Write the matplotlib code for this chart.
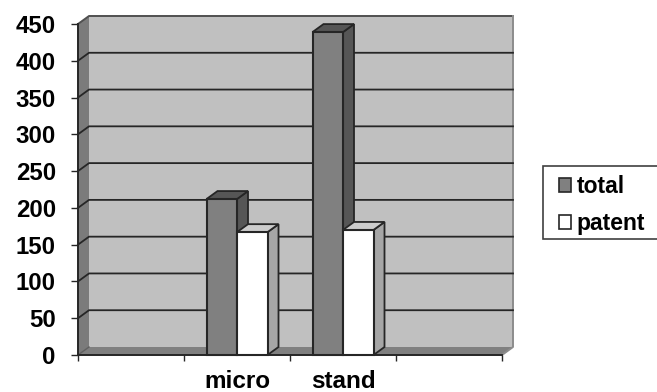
import matplotlib
matplotlib.use("Agg")
import matplotlib.pyplot as plt
from matplotlib.patches import Polygon, Rectangle, Patch

plt.rcParams['font.family'] = ['Liberation Sans', 'DejaVu Sans']

categories = ['micro', 'stand']
total = [212, 439]
patent = [167, 170]
y_ticks = [0, 50, 100, 150, 200, 250, 300, 350, 400, 450]

W, H = 657, 392
L, R, T, B = 78, 502, 24, 355
fig = plt.figure(figsize=(W / 100, H / 100), dpi=100)
ax = fig.add_axes([L / W, (H - B) / H, (R - L) / W, (B - T) / H])
ax.set_xlim(0, 4)
ax.set_ylim(0, 450)

ux = (R - L) / 4          # pixels per category
uy = (B - T) / 450        # pixels per value
dx = 11 / ux              # depth in data units
dy = 8 / uy
bw = 30.5 / ux

DARK = '#262626'


def poly(pts, fc, ec='none', lw=0, z=1):
    ax.add_patch(Polygon(pts, closed=True, facecolor=fc, edgecolor=ec, linewidth=lw,
                         zorder=z, clip_on=False, joinstyle='miter'))


# back wall, side wall, floor
poly([(dx, dy), (4 + dx, dy), (4 + dx, 450 + dy), (dx, 450 + dy)], '#c0c0c0', z=1)
poly([(0, 0), (dx, dy), (dx, 450 + dy), (0, 450)], '#7b7b7b', z=1)
poly([(0, 0), (4, 0), (4 + dx, dy), (dx, dy)], '#808080', z=1)

# wall outlines
ax.plot([0, dx, 4 + dx], [450, 450 + dy, 450 + dy], color='#505050', lw=1.4, zorder=2, clip_on=False)
ax.plot([4 + dx, 4 + dx, 4], [450 + dy, dy, 0], color='#8c8c8c', lw=1.4, zorder=2, clip_on=False)

# gridlines
for v in y_ticks[1:-1]:
    ax.plot([0, dx, 4 + dx], [v, v + dy, v + dy], color=DARK, lw=1.3, zorder=2, clip_on=False)
ax.plot([0, dx], [0, dy], color='#606060', lw=1.0, zorder=2)


def bar3d(x0, h, front, top, side):
    x1 = x0 + bw
    poly([(x1, 0), (x1 + dx, dy), (x1 + dx, h + dy), (x1, h)], side, DARK, 1.3, 3)
    poly([(x0, h), (x1, h), (x1 + dx, h + dy), (x0 + dx, h + dy)], top, DARK, 1.3, 3)
    poly([(x0, 0), (x1, 0), (x1, h), (x0, h)], front, DARK, 1.5, 3)


for i, cat in enumerate(categories):
    centre = i + 1.5
    bar3d(centre - bw, total[i], '#808080', '#565656', '#565656')
    bar3d(centre, patent[i], '#ffffff', '#cccccc', '#a6a6a6')

for s in ('top', 'right'):
    ax.spines[s].set_visible(False)
for s in ('left', 'bottom'):
    ax.spines[s].set_color(DARK)
    ax.spines[s].set_linewidth(1.4)
    ax.spines[s].set_zorder(4)

ax.set_yticks(y_ticks)
ax.set_yticklabels([str(v) for v in y_ticks], fontsize=17.3, fontweight='bold', color='black')
ax.tick_params(axis='y', length=5, width=1, color=DARK, pad=11)
ax.set_xticks([0, 1, 2, 3, 4])
ax.set_xticklabels([])
ax.tick_params(axis='x', which='major', length=4.5, width=1, color=DARK)
ax.set_xticks([1.5, 2.5], minor=True)
ax.set_xticklabels(categories, minor=True, fontsize=17.5, fontweight='bold', color='black')
ax.tick_params(axis='x', which='minor', length=0, pad=10.5)

# legend box, open past the right edge of the picture
fig.add_artist(Rectangle((543 / W, (H - 239) / H), 130 / W, 73 / H, transform=fig.transFigure,
                         facecolor='white', edgecolor='#404040', linewidth=1.2, zorder=5))
handles = [Patch(facecolor='#808080', edgecolor=DARK, linewidth=1.2, label='total'),
           Patch(facecolor='#ffffff', edgecolor=DARK, linewidth=1.2, label='patent')]
leg = fig.legend(handles=handles, loc='upper left', bbox_to_anchor=(559 / W, (H - 175) / H),
                 bbox_transform=fig.transFigure, frameon=False, borderaxespad=0, borderpad=0,
                 prop={'size': 16.5, 'weight': 'bold'},
                 handlelength=0.52, handleheight=0.52, handletextpad=0.26, labelspacing=0.61)
leg.set_zorder(6)

fig.savefig('out.png', dpi=100)
